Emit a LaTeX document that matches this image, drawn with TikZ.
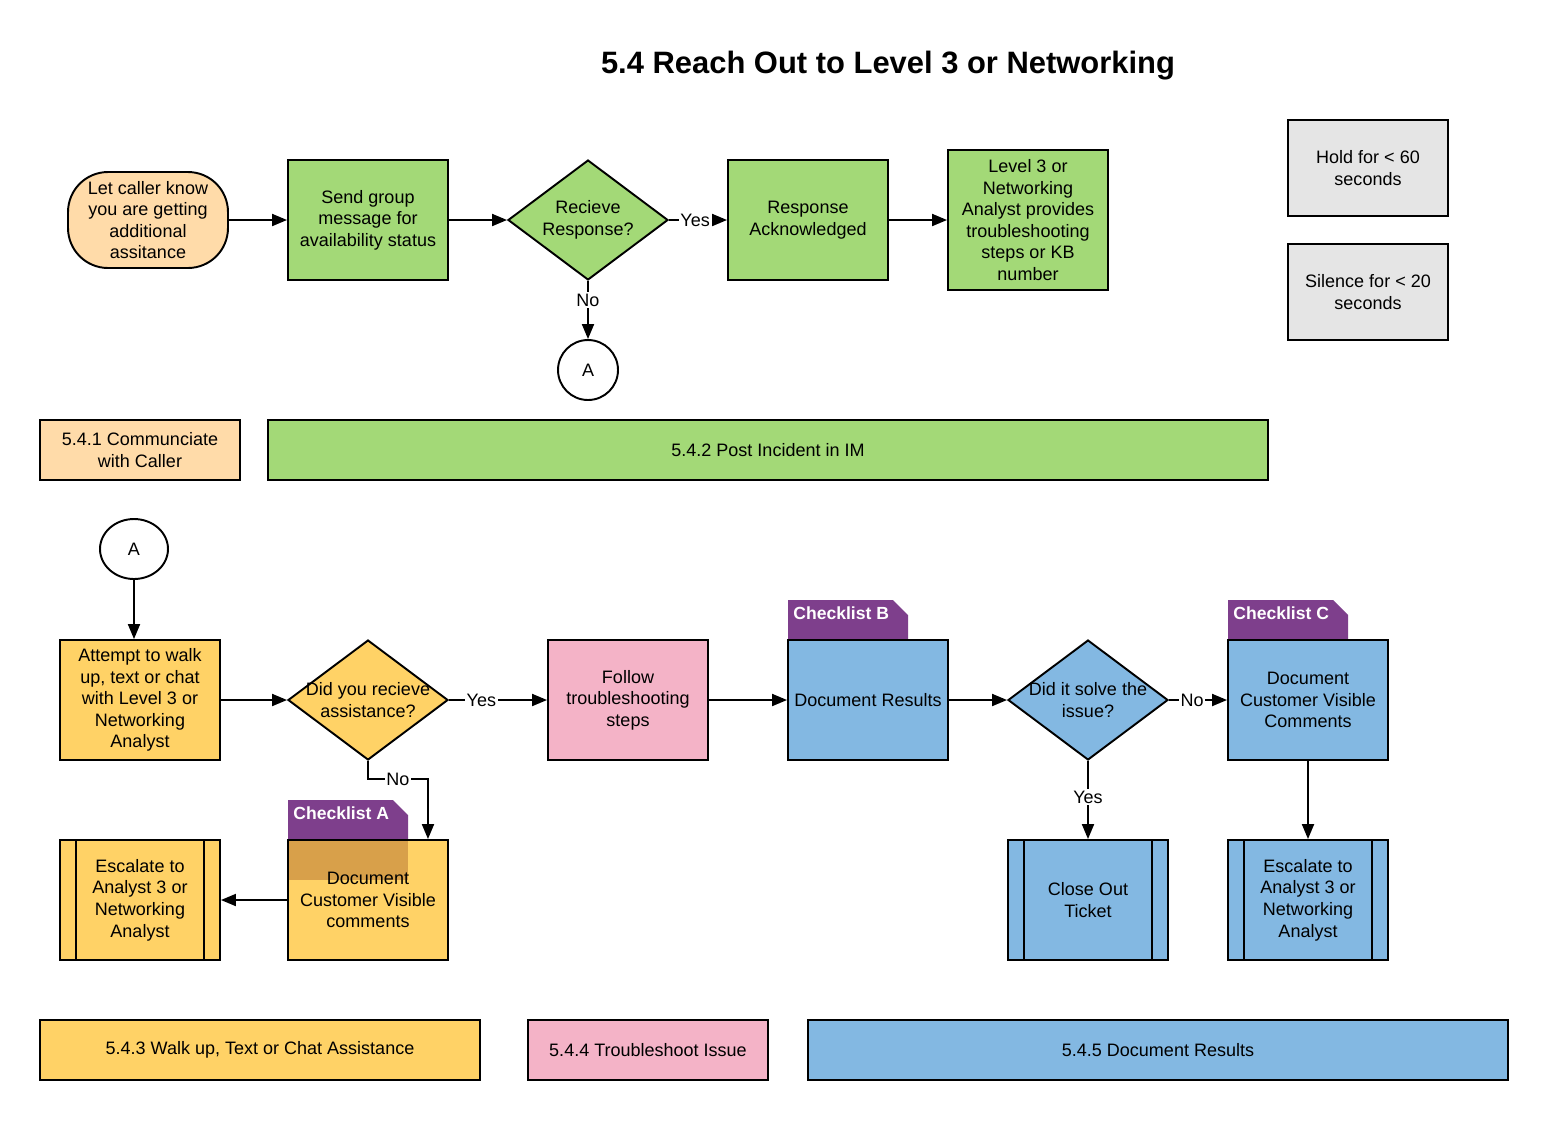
\documentclass[tikz,border=0pt]{standalone}
\usepackage{fontspec}
\setmainfont{Liberation Sans}
\usetikzlibrary{shapes,arrows.meta}

\definecolor{peach}{RGB}{255,219,169}
\definecolor{leaf}{RGB}{163,217,119}
\definecolor{paper}{RGB}{229,229,229}
\definecolor{sun}{RGB}{255,210,102}
\definecolor{rose}{RGB}{244,179,199}
\definecolor{sky}{RGB}{131,184,226}
\definecolor{plum}{RGB}{126,63,140}
\definecolor{tabshade}{RGB}{216,160,74}

\tikzset{
  base/.style={draw, line width=1.1pt, align=center, inner sep=2pt,
    font=\fontsize{10.25}{12.3}\selectfont},
  box/.style={base, rectangle, minimum width=3.2cm, minimum height=2.4cm},
  lane/.style={base, rectangle, minimum height=1.2cm},
  decision/.style={base, diamond, minimum width=3.2cm, minimum height=2.4cm, inner sep=0pt},
  predef/.style={box, path picture={
    \draw[line width=1.1pt] ([xshift=0.32cm]path picture bounding box.north west)
      -- ([xshift=0.32cm]path picture bounding box.south west);
    \draw[line width=1.1pt] ([xshift=-0.32cm]path picture bounding box.north east)
      -- ([xshift=-0.32cm]path picture bounding box.south east);}},
  arr/.style={-{Triangle[length=0.3cm,width=0.24cm]}, line width=1.1pt},
  lbl/.style={fill=white, inner sep=1pt, font=\fontsize{10.25}{12.3}\selectfont},
  tabtext/.style={text=white, inner sep=0pt, font=\fontsize{10}{12}\selectfont\bfseries},
}

\begin{document}
\begin{tikzpicture}[x=0.02cm, y=-0.02cm]
\useasboundingbox (0,0) rectangle (1548,1120);

\node[font=\fontsize{17.6}{21}\selectfont\bfseries] (title) at (888,66) {5.4 Reach Out to Level 3 or Networking};

% top row
\node[base, fill=peach, rounded corners=0.8cm, minimum width=3.2cm, minimum height=1.92cm] (caller) at (148,220)
  {Let caller know\\you are getting\\additional\\assitance};
\node[box, fill=leaf] (send) at (368,220) {Send group\\message for\\availability status};
\node[decision, fill=leaf, label={[align=center, font=\fontsize{10.25}{12.3}\selectfont]center:Recieve\\Response?}] (resp) at (588,220) {};
\node[box, fill=leaf] (ack) at (808,220) {Response\\Acknowledged};
\node[box, fill=leaf, minimum height=2.8cm] (steps) at (1028,220)
  {Level 3 or\\Networking\\Analyst provides\\troubleshooting\\steps or KB\\number};
\node[base, circle, minimum size=1.2cm, inner sep=0pt] (connA) at (588,370) {A};

\node[box, fill=paper, minimum height=1.92cm] (hold) at (1368,168) {Hold for < 60\\seconds};
\node[box, fill=paper, minimum height=1.92cm] (silence) at (1368,292) {Silence for < 20\\seconds};

\draw[arr] (caller) -- (send);
\draw[arr] (send) -- (resp);
\draw[arr] (resp) -- node[lbl, pos=0.45] {Yes} (ack);
\draw[arr] (ack) -- (steps);
\draw[arr] (resp) -- node[lbl, pos=0.33] {No} (connA);

% lanes 5.4.1 and 5.4.2
\node[lane, fill=peach, minimum width=4cm] (lane1) at (140,450) {5.4.1 Communciate\\with Caller};
\node[lane, fill=leaf, minimum width=20cm] (lane2) at (768,450) {5.4.2 Post Incident in IM};

% bottom flow
\node[base, ellipse, minimum width=1.36cm, minimum height=1.2cm, inner sep=0pt] (connB) at (134,549) {A};
\node[box, fill=sun] (attempt) at (140,700) {Attempt to walk\\up, text or chat\\with Level 3 or\\Networking\\Analyst};
\node[decision, fill=sun, label={[align=center, font=\fontsize{10.25}{12.3}\selectfont]center:Did you recieve\\assistance?}] (assist) at (368,700) {};
\node[box, fill=rose] (follow) at (628,700) {Follow\\troubleshooting\\steps};

% checklist B
\fill[plum] (788,640) -- (788,600) -- (893,600) -- (908,615) -- (908,640) -- cycle;
\node[tabtext, anchor=west] (tabB) at (793,613) {Checklist B};
\node[box, fill=sky] (docres) at (868,700) {Document Results};

\node[decision, fill=sky, label={[align=center, font=\fontsize{10.25}{12.3}\selectfont]center:Did it solve the\\issue?}] (solve) at (1088,700) {};

% checklist C
\fill[plum] (1228,640) -- (1228,600) -- (1333,600) -- (1348,615) -- (1348,640) -- cycle;
\node[tabtext, anchor=west] (tabC) at (1233,613) {Checklist C};
\node[box, fill=sky] (docC) at (1308,700) {Document\\Customer Visible\\Comments};

\node[predef, fill=sky] (close) at (1088,900) {Close Out\\Ticket};
\node[predef, fill=sky] (escR) at (1308,900) {Escalate to\\Analyst 3 or\\Networking\\Analyst};

% checklist A
\fill[plum] (288,840) -- (288,800) -- (393,800) -- (408,815) -- (408,840) -- cycle;
\node[tabtext, anchor=west] (tabA) at (293,813) {Checklist A};
\node[box, fill=sun, path picture={\fill[tabshade] (path picture bounding box.north west)
  rectangle ([xshift=2.4cm, yshift=-0.8cm]path picture bounding box.north west);}] (docA) at (368,900)
  {Document\\Customer Visible\\comments};
\node[predef, fill=sun] (escL) at (140,900) {Escalate to\\Analyst 3 or\\Networking\\Analyst};

\draw[arr] (connB) -- (connB |- attempt.north);
\draw[arr] (attempt) -- (assist);
\draw[arr] (assist) -- node[lbl, pos=0.33] {Yes} (follow);
\draw[arr] (follow) -- (docres);
\draw[arr] (docres) -- (solve);
\draw[arr] (solve) -- node[lbl, pos=0.4] {No} (docC);
\draw[arr] (solve) -- node[lbl, pos=0.46] {Yes} (close);
\draw[arr] (docC) -- (escR);
\draw[arr] (assist.south) -- ++(0,18) -| node[lbl, pos=0.25] {No} ([xshift=1.2cm]docA.north);
\draw[arr] (docA) -- (escL);

% lanes 5.4.3 to 5.4.5
\node[lane, fill=sun, minimum width=8.8cm] (lane3) at (260,1050) {5.4.3 Walk up, Text or Chat Assistance};
\node[lane, fill=rose, minimum width=4.8cm] (lane4) at (648,1050) {5.4.4 Troubleshoot Issue};
\node[lane, fill=sky, minimum width=14cm] (lane5) at (1158,1050) {5.4.5 Document Results};
\end{tikzpicture}
\end{document}
